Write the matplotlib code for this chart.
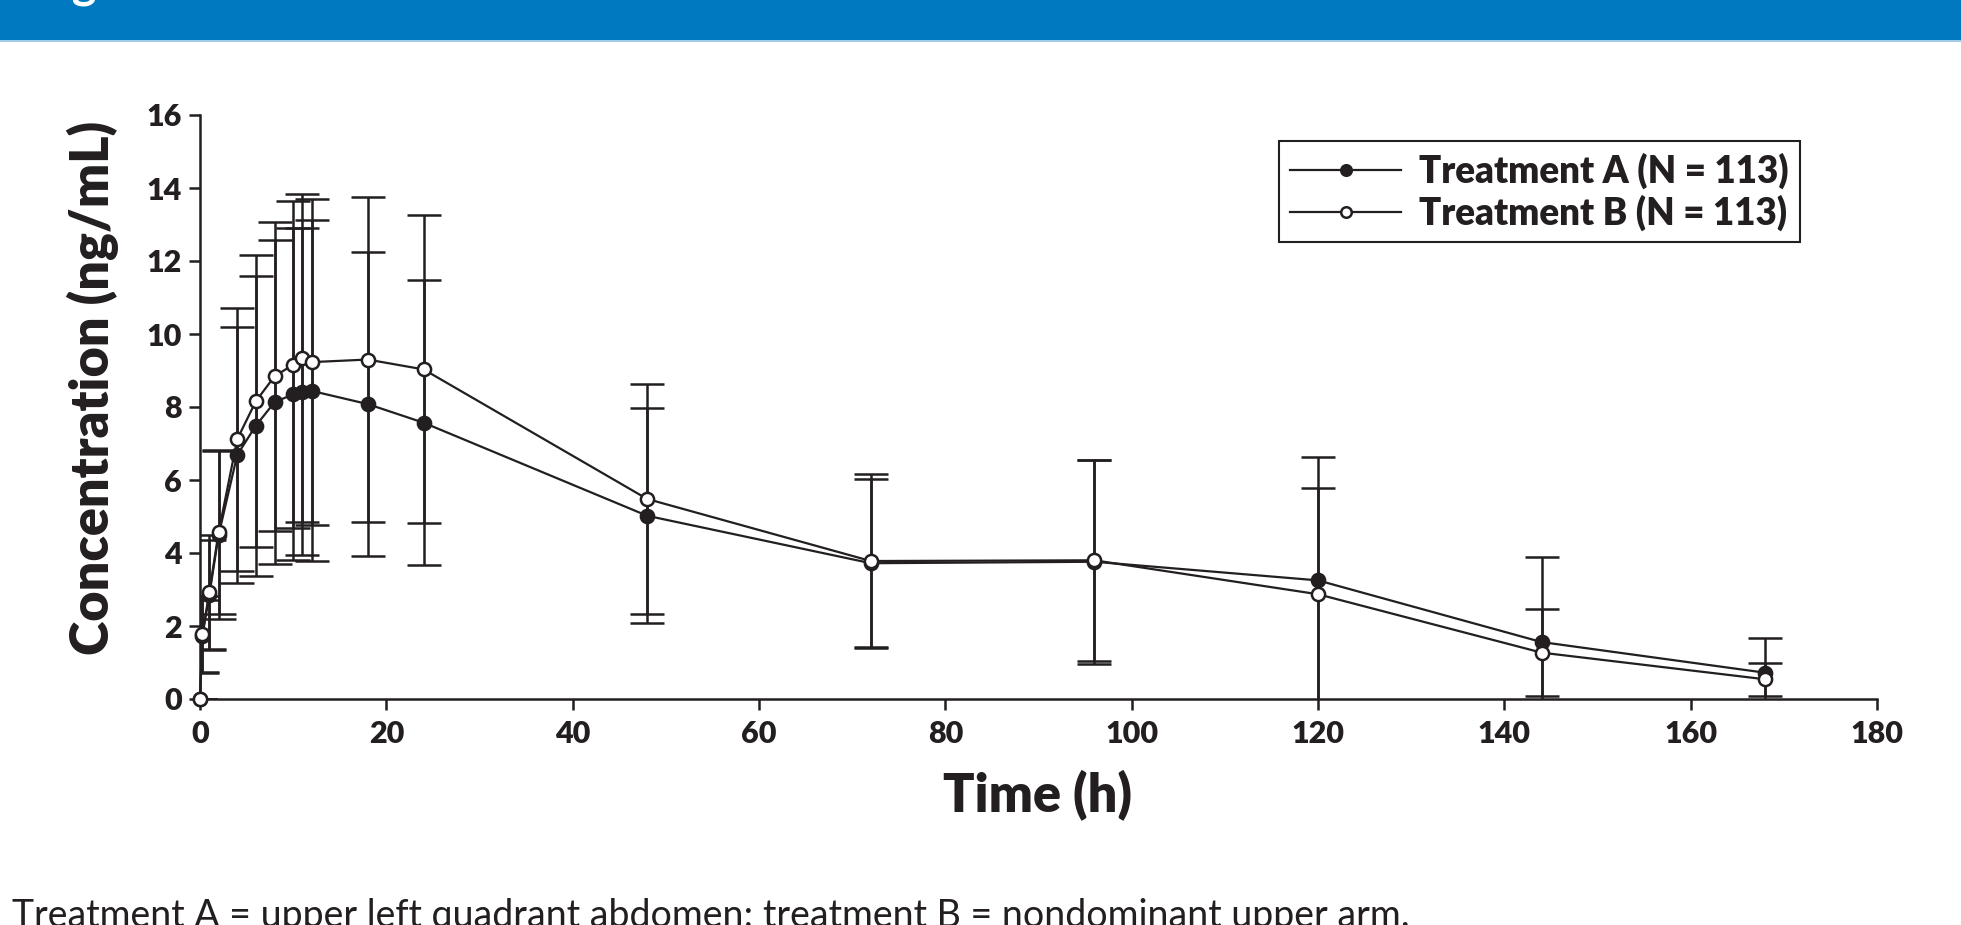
import matplotlib
matplotlib.use("Agg")
import matplotlib.pyplot as plt
from matplotlib.patches import Rectangle

# ---- data ----
time_h = [0, 0.25, 1, 2, 4, 6, 8, 10, 11, 12, 18, 24, 48, 72, 96, 120, 144, 168]
conc_A = [0, 1.72, 2.85, 4.50, 6.69, 7.49, 8.13, 8.35, 8.42, 8.44, 8.08, 7.57, 5.02, 3.72, 3.76, 3.25, 1.56, 0.72]
sd_A   = [0, 1.00, 1.50, 2.30, 3.51, 4.11, 4.44, 4.55, 4.48, 4.67, 4.17, 3.90, 2.94, 2.30, 2.79, 3.39, 2.34, 0.96]
conc_B = [0, 1.78, 2.92, 4.57, 7.12, 8.16, 8.84, 9.16, 9.35, 9.23, 9.30, 9.03, 5.48, 3.78, 3.80, 2.87, 1.27, 0.54]
sd_B   = [0, 1.04, 1.56, 2.24, 3.60, 4.00, 4.23, 4.48, 4.49, 4.47, 4.46, 4.22, 3.14, 2.38, 2.75, 2.90, 1.19, 0.46]
label_A = "Treatment A (N = 113)"
label_B = "Treatment B (N = 113)"
x_ticks = [0, 20, 40, 60, 80, 100, 120, 140, 160, 180]
y_ticks = [0, 2, 4, 6, 8, 10, 12, 14, 16]
footnote = "Treatment A = upper left quadrant abdomen; treatment B = nondominant upper arm."

INK = "#231f20"
FONT = "Lato"
HEAVY = "heavy"

W, H = 1961, 925
fig = plt.figure(figsize=(W / 100, H / 100), dpi=100)

# top banner
fig.patches.append(Rectangle((0, 1 - 40 / H), 1, 40 / H, transform=fig.transFigure,
                             facecolor="#0079c1", edgecolor="none", zorder=0))
fig.patches.append(Rectangle((0, 1 - 42 / H), 1, 2 / H, transform=fig.transFigure,
                             facecolor="#9fcbe6", edgecolor="none", zorder=0))
fig.text(33 / W, 1 + 2 / H, "Figure 2", color="white", fontsize=34, fontweight="bold",
         family=FONT, va="baseline", ha="left")

ax = fig.add_axes([200 / W, 1 - 699 / H, (1877 - 200) / W, (699 - 115) / H])

ax.errorbar(time_h, conc_A, yerr=sd_A, fmt="none", ecolor=INK, elinewidth=1.8,
            capsize=12, capthick=1.8, zorder=2)
ax.errorbar(time_h, conc_B, yerr=sd_B, fmt="none", ecolor=INK, elinewidth=1.8,
            capsize=12, capthick=1.8, zorder=2)

lA, = ax.plot(time_h, conc_A, "-o", color=INK, lw=1.6, ms=9.5, mfc=INK, mec=INK,
              mew=1.8, clip_on=False, zorder=3, label=label_A)
lB, = ax.plot(time_h, conc_B, "-o", color=INK, lw=1.6, ms=9.5, mfc="white", mec=INK,
              mew=1.8, clip_on=False, zorder=4, label=label_B)

ax.set_xlim(0, 180)
ax.set_ylim(0, 16)
ax.set_xticks(x_ticks)
ax.set_yticks(y_ticks)
ax.set_xticklabels([str(v) for v in x_ticks])
ax.set_yticklabels([str(v) for v in y_ticks])
for s in ("top", "right"):
    ax.spines[s].set_visible(False)
for s in ("left", "bottom"):
    ax.spines[s].set_linewidth(1.8)
    ax.spines[s].set_color(INK)
ax.tick_params(direction="out", length=8, width=1.8, color=INK, labelcolor=INK,
               labelsize=22)
ax.tick_params(axis="x", pad=7)
ax.tick_params(axis="y", pad=5)
for lab in ax.get_xticklabels() + ax.get_yticklabels():
    lab.set_fontweight(HEAVY)
    lab.set_family(FONT)

ax.set_xlabel("Time (h)", fontsize=37.5, fontweight=HEAVY, family=FONT, color=INK, va="center")
ax.xaxis.set_label_coords(0.4994, -0.166)
ax.set_ylabel("Concentration (ng/mL)", fontsize=37.5, fontweight=HEAVY, family=FONT,
              color=INK, va="center")
ax.yaxis.set_label_coords(-0.064, 0.533)

leg = ax.legend(handles=[lA, lB], loc="upper right", bbox_to_anchor=(0.954, 0.955),
                frameon=True, fancybox=False, edgecolor=INK, framealpha=1,
                prop={"family": FONT, "weight": HEAVY, "size": 26.5},
                handlelength=3.0, handletextpad=0.5, borderpad=0.3,
                labelspacing=0.15, markerscale=0.8, borderaxespad=0)
leg.get_frame().set_linewidth(1.5)
for t in leg.get_texts():
    t.set_color(INK)

fig.text(12 / W, -2 / H, footnote, fontsize=27, family=FONT, color=INK,
         va="baseline", ha="left")

fig.savefig("out.png", dpi=100)
